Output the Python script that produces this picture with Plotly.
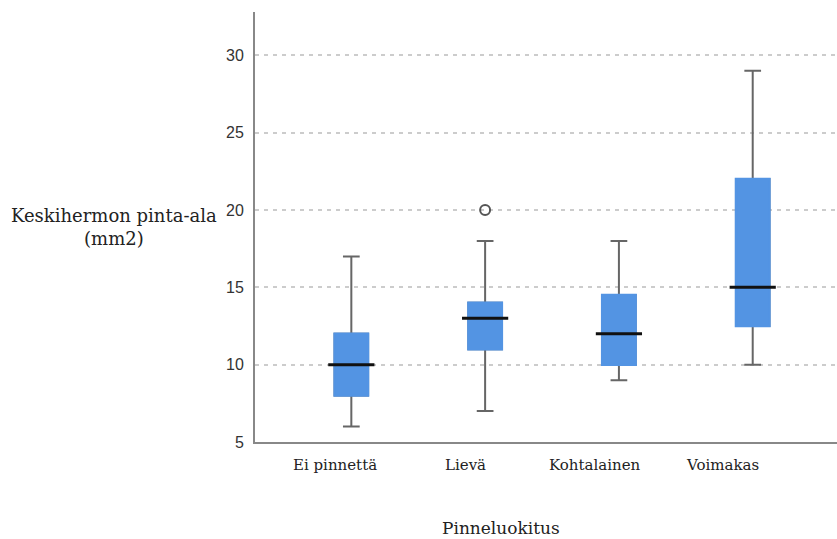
import plotly.graph_objects as go

# Pinneluokitus groups and median nerve area summary (mm2)
categories = ["Ei pinnettä", "Lievä", "Kohtalainen", "Voimakas"]
lower_whisker = [6, 7, 9, 10]
q1 = [8, 11, 10, 12.5]
median = [10, 13, 12, 15]
q3 = [12, 14, 14.5, 22]
upper_whisker = [17, 18, 18, 29]
outlier_cat = ["Lievä"]
outlier_val = [20]
y_ticks = [5, 10, 15, 20, 25, 30]

BLUE = "#5394e3"
GRAY = "#666666"
SERIF = "DejaVu Serif, Georgia, serif"

idx = list(range(len(categories)))

fig = go.Figure()

# whiskers + caps
fig.add_trace(go.Box(
    x=idx, q1=q1, median=median, q3=q3,
    lowerfence=lower_whisker, upperfence=upper_whisker,
    width=0.25, whiskerwidth=0.5,
    line=dict(color=GRAY, width=2), fillcolor=BLUE,
    boxpoints=False, showlegend=False, hoverinfo="skip",
))
# blue body drawn over the gray box outline
fig.add_trace(go.Box(
    x=idx, q1=q1, median=median, q3=q3,
    lowerfence=q1, upperfence=q3,
    width=0.25, whiskerwidth=0,
    line=dict(color=BLUE, width=2.5), fillcolor=BLUE,
    boxpoints=False, showlegend=False, hoverinfo="skip",
))
# median lines
fig.add_trace(go.Scatter(
    x=idx, y=median, mode="markers",
    marker=dict(symbol="line-ew", size=33, line=dict(color="#111111", width=3)),
    showlegend=False, hoverinfo="skip",
))
# outlier
fig.add_trace(go.Scatter(
    x=[categories.index(c) for c in outlier_cat], y=outlier_val, mode="markers",
    marker=dict(symbol="circle-open", size=10, color="#555555", line=dict(width=2)),
    showlegend=False, hoverinfo="skip",
))

# category labels under the axis
label_shift = [-16, -20, -24, -30]
for i, name in enumerate(categories):
    fig.add_annotation(
        x=i, y=0, xref="x", yref="paper", text=name, showarrow=False,
        yanchor="top", yshift=-12, xshift=label_shift[i],
        font=dict(family=SERIF, size=15, color="#222222"),
    )

# horizontal y title
fig.add_annotation(
    x=-0.242, y=0.50, xref="paper", yref="paper", xanchor="center",
    yanchor="middle",
    text="Keskihermon pinta-ala<br>(mm2)", showarrow=False, align="center",
    font=dict(family=SERIF, size=18, color="#222222"),
)
fig.add_annotation(
    x=0.423, y=-0.2, xref="paper", yref="paper", yanchor="middle",
    text="Pinneluokitus", showarrow=False,
    font=dict(family=SERIF, size=17, color="#222222"),
)

fig.update_layout(
    width=837, height=539,
    margin=dict(l=255, r=0, t=12, b=97),
    paper_bgcolor="white", plot_bgcolor="white",
    boxmode="overlay",
    xaxis=dict(
        range=[-0.72, 3.63], showticklabels=False, showgrid=False,
        zeroline=False, showline=True, linecolor="#888888", linewidth=2,
        ticks="",
    ),
    yaxis=dict(
        range=[5, 32.8], tickvals=y_ticks, showgrid=True,
        gridcolor="#cccccc", gridwidth=2, griddash="4px,5px",
        zeroline=False, showline=True, linecolor="#888888", linewidth=2,
        ticks="", ticklabelstandoff=6,
        tickfont=dict(family="Liberation Sans, Arial, sans-serif", size=16, color="#333333"),
    ),
)

fig.write_html("out.html")
